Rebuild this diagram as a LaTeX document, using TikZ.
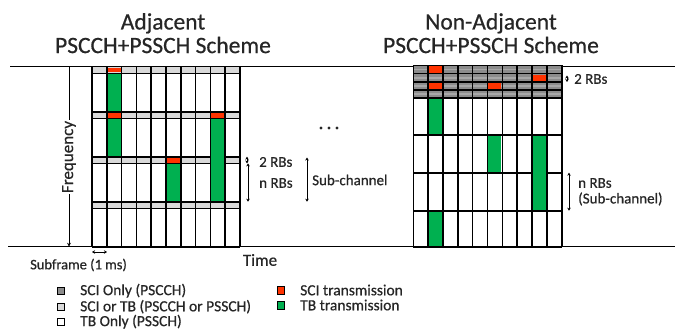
\documentclass[tikz,border=0pt]{standalone}
\usepackage{fontspec}
\setmainfont{Carlito}[FakeBold=0.6]
\usetikzlibrary{arrows.meta}
\definecolor{sci}{HTML}{FF3300}
\definecolor{tb}{HTML}{00B050}
\definecolor{lgray}{HTML}{D9D9D9}
\definecolor{dgray}{HTML}{8C8C8C}
\definecolor{mgray}{HTML}{A8A8A8}
\definecolor{txt}{HTML}{262626}
\newcommand{\Lcell}[4]{\fill[#4] ({92+(#1-1)*14.8+0.9},{#2+0.9}) rectangle ({92+#1*14.8-0.9},{#3-0.9});}
\newcommand{\Rcell}[4]{\fill[#4] ({413.3+(#1-1)*14.84+0.9},{#2+0.9}) rectangle ({413.3+#1*14.84-0.9},{#3-0.9});}
\begin{document}
\begin{tikzpicture}[x=1pt,y=-1pt,
  gridline/.style={line width=1.6pt,black},
  axis/.style={line width=1pt,black},
  dim/.style={line width=0.9pt,black,{Stealth[length=3pt,width=3.5pt]}-{Stealth[length=3pt,width=3.5pt]}},
  title/.style={font=\fontsize{23.5}{26}\selectfont,text=txt,inner sep=0pt},
  lbl/.style={font=\fontsize{15}{17}\selectfont,text=txt,inner sep=0pt,anchor=west},
  leg/.style={font=\fontsize{15.5}{17}\selectfont,text=txt,inner sep=0pt,anchor=west},
  legbox/.style={draw=black,line width=1pt}]
\useasboundingbox (0,0) rectangle (675,329);
% titles
\node[title] (t1) at (163,23.3) {Adjacent};
\node[title] (t2) at (163,45) {PSCCH+PSSCH Scheme};
\node[title] (t3) at (491,23.3) {Non-Adjacent};
\node[title] (t4) at (491,45) {PSCCH+PSSCH Scheme};
% main lines
\coordinate (topL) at (10,66.7);
\coordinate (topR) at (675,66.7);
\coordinate (botL) at (8,246.7);
\coordinate (botR) at (675,246.7);
\draw[axis] (topL) -- (topR);
\draw[axis] (botL) -- (botR);
% ---------- left grid ----------
\fill[white] (92,66.7) rectangle (240,246.7);
\foreach \t in {66.7,111.7,156.7,201.7} \fill[lgray] (92,\t) rectangle (240,\t+6.7);
\foreach \i in {0,...,10} \draw[gridline] (92+\i*14.8,66.7) -- (92+\i*14.8,246.7);
\foreach \t in {66.7,73.4,111.7,118.4,156.7,163.4,201.7,208.4,246.7} \draw[gridline] (92,\t) -- (240,\t);
\Lcell{2}{66.7}{73.4}{sci}
\Lcell{2}{73.4}{111.7}{tb}
\Lcell{2}{111.7}{118.4}{sci}
\Lcell{2}{118.4}{156.7}{tb}
\Lcell{9}{111.7}{118.4}{sci}
\Lcell{9}{118.4}{201.7}{tb}
\Lcell{6}{156.7}{163.4}{sci}
\Lcell{6}{163.4}{201.7}{tb}
% ---------- right grid ----------
\fill[dgray] (413.3,65.5) rectangle (561.7,98.3);
\fill[white] (413.3,98.3) rectangle (561.7,246.7);
\foreach \m in {69.6,77.8,86.0,94.2} \draw[mgray,line width=1.6pt] (413.3,\m) -- (561.7,\m);
\foreach \i in {0,...,10} \draw[gridline] (413.3+\i*14.84,65.5) -- (413.3+\i*14.84,246.7);
\foreach \t in {65.5,73.7,81.9,90.1,98.3,135,172.7,210.7,246.7} \draw[gridline] (413.3,\t) -- (561.7,\t);
\Rcell{2}{65.5}{73.7}{sci}
\Rcell{9}{73.7}{81.9}{sci}
\Rcell{2}{81.9}{90.1}{sci}
\Rcell{6}{81.9}{90.1}{sci}
\Rcell{2}{98.3}{135}{tb}
\Rcell{6}{135}{172.7}{tb}
\Rcell{9}{135}{210.7}{tb}
\Rcell{2}{210.7}{246.7}{tb}
% ---------- frequency axis ----------
\coordinate (fa) at (69,66.7);
\coordinate (fb) at (69,246.7);
\draw[axis,-{Stealth[length=4pt,width=4pt]}] (fa) -- (fb);
\node[fill=white,rotate=90,font=\fontsize{17}{20}\selectfont,text=txt,inner sep=1pt] (freq) at (69,157) {Frequency};
% ---------- left annotations ----------
\coordinate (a1) at (247,156.7);
\coordinate (a2) at (247,163.4);
\coordinate (a3) at (248,163.4);
\coordinate (a4) at (248,201.7);
\draw[dim] (a1) -- (a2);
\draw[dim] (a3) -- (a4);
\node[lbl] (rb2) at (259,162) {2 RBs};
\node[lbl] (nrb) at (259,183) {n RBs};
\coordinate (s1) at (307,157.5);
\coordinate (s2) at (307,201.7);
\draw[dim] (s1) -- (s2);
\node[lbl] (subch) at (312,180) {Sub-channel};
\foreach \dx in {321,329,337} \fill[txt] (\dx,128) circle (1.6pt);
% ---------- right annotations ----------
\coordinate (b1) at (567,75.5);
\coordinate (b2) at (567,82);
\coordinate (b3) at (569,172.7);
\coordinate (b4) at (569,210.7);
\draw[dim] (b1) -- (b2);
\draw[dim] (b3) -- (b4);
\node[lbl] (rb2r) at (574,79) {2 RBs};
\node[lbl] (nrbr) at (578,183) {n RBs};
\node[lbl] (subr) at (578,199) {(Sub-channel)};
% ---------- subframe / time ----------
\coordinate (sf1) at (92,252);
\coordinate (sf2) at (107,252);
\draw[dim] (sf1) -- (sf2);
\node[font=\fontsize{14.5}{17}\selectfont,text=txt,inner sep=0pt,anchor=west] (subf) at (30,265) {Subframe (1 ms)};
\node[font=\fontsize{17}{20}\selectfont,text=txt,inner sep=0pt] (time) at (260,260) {Time};
% ---------- legend ----------
\draw[legbox,fill=dgray] (57,287.7) rectangle (64,294.7);
\draw[legbox,fill=lgray] (57,303.7) rectangle (64,310.7);
\draw[legbox,fill=white] (57,318) rectangle (64,325);
\node[leg] (l1) at (80,290.7) {SCI Only (PSCCH)};
\node[leg] (l2) at (80,306.7) {SCI or TB (PSCCH or PSSCH)};
\node[leg] (l3) at (80,321.7) {TB Only (PSSCH)};
\draw[legbox,fill=sci] (277,286.7) rectangle (284,294.7);
\draw[legbox,fill=tb] (277,301.3) rectangle (284,309.3);
\node[leg] (l4) at (300,290) {SCI transmission};
\node[leg] (l5) at (300,305) {TB transmission};
\end{tikzpicture}
\end{document}
